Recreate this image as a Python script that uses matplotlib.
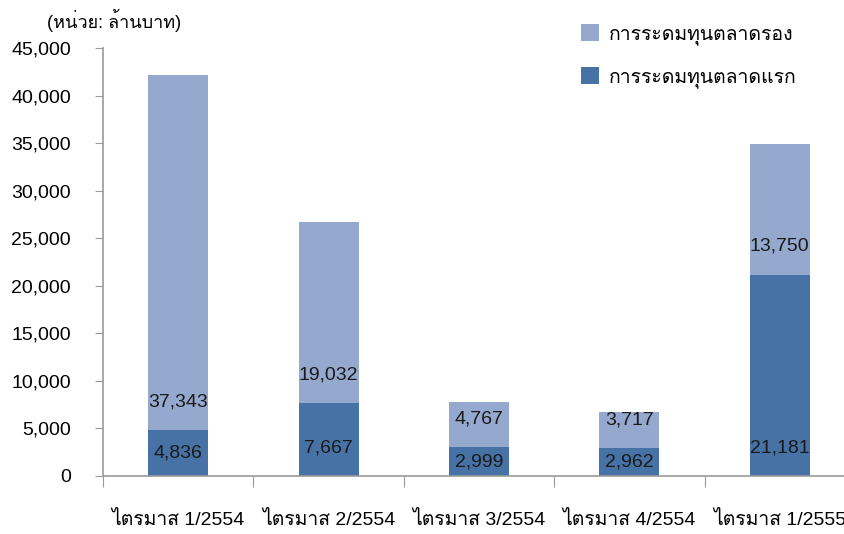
import numpy as np
import matplotlib
matplotlib.use("Agg")
import matplotlib.pyplot as plt

categories = ["ไตรมาส 1/2554", "ไตรมาส 2/2554", "ไตรมาส 3/2554",
              "ไตรมาส 4/2554", "ไตรมาส 1/2555"]
primary = [4836, 7667, 2999, 2962, 21181]      # การระดมทุนตลาดแรก
secondary = [37343, 19032, 4767, 3717, 13750]  # การระดมทุนตลาดรอง
yticks = [0, 5000, 10000, 15000, 20000, 25000, 30000, 35000, 40000, 45000]
unit_label = "(หน่วย: ล้านบาท)"
legend_labels = ["การระดมทุนตลาดรอง", "การระดมทุนตลาดแรก"]

# latin glyphs from Liberation Sans, thai glyphs fall back to Loma
plt.rcParams['font.family'] = ['Liberation Sans', 'Loma', 'DejaVu Sans']

fig = plt.figure(figsize=(8.45, 5.34), dpi=100)
ax = fig.add_axes([103 / 845, 58 / 534, 752 / 845, 428 / 534])

light = "#95A9CF"
dark = "#4672A6"
x = np.arange(len(categories))
w = 0.4
b1 = ax.bar(x, primary, w, color=dark, zorder=2)
b2 = ax.bar(x, secondary, w, bottom=primary, color=light, zorder=2)

for i in range(len(x)):
    off = min(2950, primary[i] / 2)
    ax.text(x[i], off, f"{primary[i]:,}", ha="center", va="center", fontsize=14, color="#1a1a1a")
    ax.text(x[i], primary[i] + 2950, f"{secondary[i]:,}", ha="center", va="center", fontsize=14, color="#1a1a1a")

ax.set_xlim(-0.5, len(x) - 0.5)
ax.set_ylim(0, 45000)
ax.set_yticks(yticks)
ax.set_yticklabels([f"{v:,}" for v in yticks], fontsize=14)
ax.set_xticks(x - 0.5, minor=False)
ax.set_xticklabels([])
ax.set_xticks(x, minor=True)
ax.set_xticklabels(categories, minor=True, fontsize=14)
ax.tick_params(axis="x", which="minor", length=0, pad=25)
ax.tick_params(axis="x", which="major", length=8, direction="out", color="#999999")
ax.tick_params(axis="y", length=6, direction="out", color="#999999", pad=17)
for s in ["top", "right"]:
    ax.spines[s].set_visible(False)
for s in ["left", "bottom"]:
    ax.spines[s].set_color("#999999")
    ax.spines[s].set_linewidth(1.2)

ax.text(-0.075, 1.065, unit_label, transform=ax.transAxes, fontsize=13, ha="left", va="center")
fig.legend([b2, b1], legend_labels, loc="upper left", bbox_to_anchor=(564 / 845, 1 - 7 / 534),
           frameon=False, fontsize=14, handlelength=0.9, handleheight=0.9, labelspacing=1.15,
           handletextpad=0.5)

fig.savefig("out.png", dpi=100)
